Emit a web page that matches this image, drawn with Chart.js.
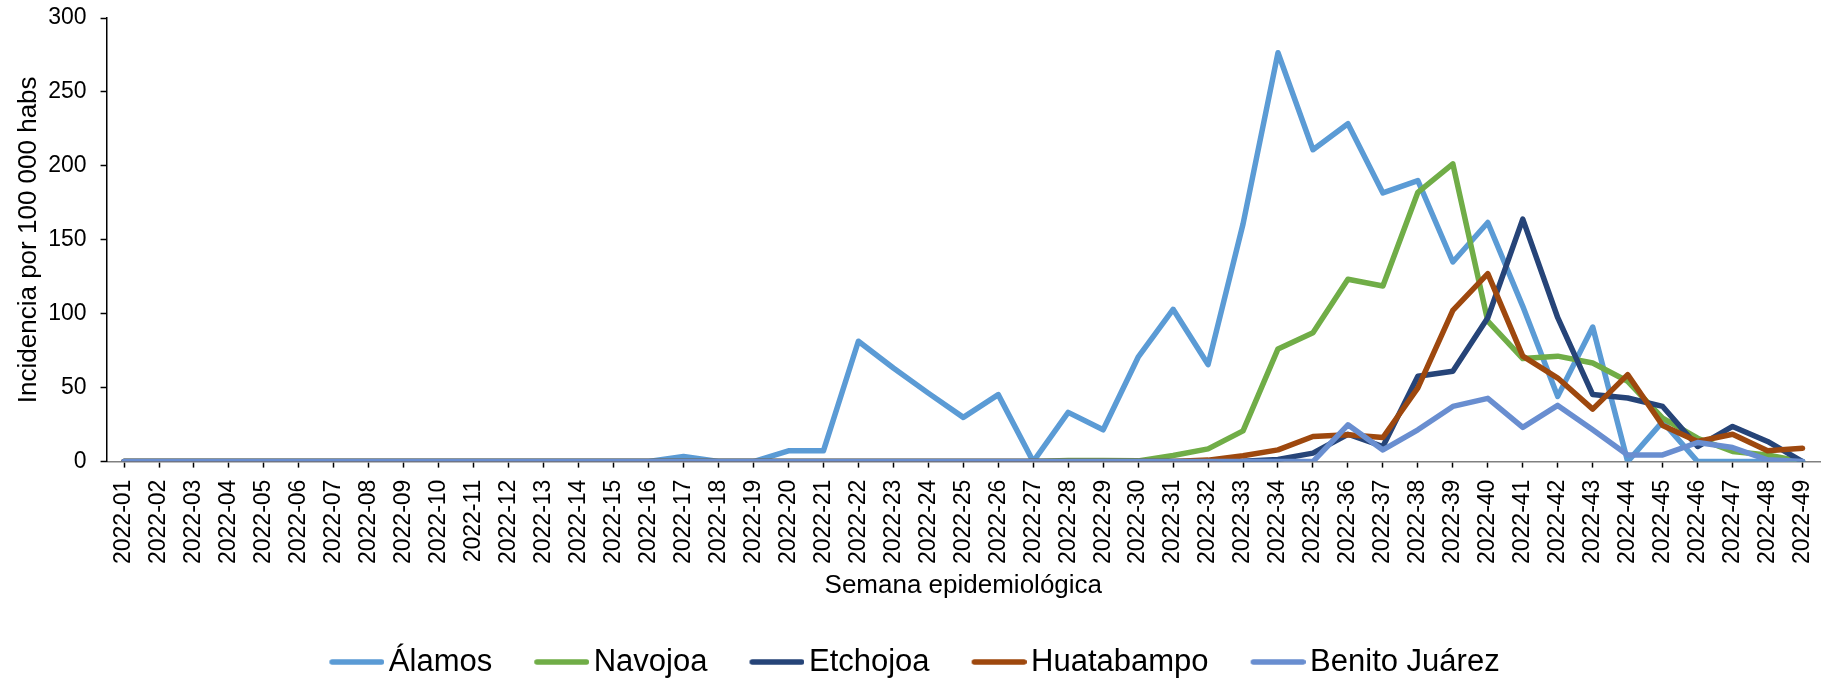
<!DOCTYPE html>
<html>
<head>
<meta charset="utf-8">
<title>Incidencia por semana epidemiológica</title>
<script src="https://cdn.jsdelivr.net/npm/chart.js@4/dist/chart.umd.min.js"></script>
<style>
    html, body { margin: 0; padding: 0; background: #fff; }
    #wrap { width: 1829px; height: 678px; position: relative; }
</style>
</head>
<body>
<div id="wrap"><canvas id="incChart"></canvas></div>
<script>
// Semanas 2022-01 .. 2022-49
const weeks = [
    '2022-01', '2022-02', '2022-03', '2022-04', '2022-05', '2022-06', '2022-07',
    '2022-08', '2022-09', '2022-10', '2022-11', '2022-12', '2022-13', '2022-14',
    '2022-15', '2022-16', '2022-17', '2022-18', '2022-19', '2022-20', '2022-21',
    '2022-22', '2022-23', '2022-24', '2022-25', '2022-26', '2022-27', '2022-28',
    '2022-29', '2022-30', '2022-31', '2022-32', '2022-33', '2022-34', '2022-35',
    '2022-36', '2022-37', '2022-38', '2022-39', '2022-40', '2022-41', '2022-42',
    '2022-43', '2022-44', '2022-45', '2022-46', '2022-47', '2022-48', '2022-49'
];

// incidence per 100 000 inhabitants
const alamos = [
    0, 0, 0, 0, 0, 0, 0, 0, 0, 0, 0, 0, 0, 0, 0, 0, 3.4, 0, 0, 7.3, 7.3,
    81.4, 63.3, 46.3, 29.9, 45.3, 0, 33.3, 21.5, 70.6, 103, 65.6, 160.7, 276.5, 210.9,
    228.5, 181.7, 190, 135, 161.7, 105, 44.1, 91, 0, 27, 0, 0, 0, 0
];
const navojoa = [
    0, 0, 0, 0, 0, 0, 0, 0, 0, 0, 0, 0, 0, 0, 0, 0, 0, 0, 0, 0, 0,
    0, 0, 0, 0, 0, 0, 0.8, 0.8, 0.5, 4.1, 8.6, 20.8, 76.2, 87.1,
    123.3, 118.8, 182.1, 201.4, 95, 69.7, 71.3, 66.7, 54.3, 29.4, 15.8, 6.8, 4.5, 0
];
const etchojoa = [
    0, 0, 0, 0, 0, 0, 0, 0, 0, 0, 0, 0, 0, 0, 0, 0, 0, 0, 0, 0, 0,
    0, 0, 0, 0, 0, 0, 0, 0, 0, 0, 0, 0.3, 1.5, 5.7,
    18.5, 10.2, 57.7, 61.1, 97.3, 164, 97.3, 45.3, 43, 37.3, 10.2, 23.8, 13.6, 0
];
const huatabampo = [
    0, 0, 0, 0, 0, 0, 0, 0, 0, 0, 0, 0, 0, 0, 0, 0, 0, 0, 0, 0, 0,
    0, 0, 0, 0, 0, 0, 0, 0, 0, 0, 1, 4, 7.9, 17,
    18.1, 16.3, 49.8, 102.3, 127.1, 71.3, 56.5, 35.5, 58.8, 24.4, 13.6, 18.5, 7.3, 9
];
const benitoJuarez = [
    0, 0, 0, 0, 0, 0, 0, 0, 0, 0, 0, 0, 0, 0, 0, 0, 0, 0, 0, 0, 0,
    0, 0, 0, 0, 0, 0, 0, 0, 0, 0, 0, 0, 0, 0,
    24.9, 7.9, 21.5, 37.3, 42.8, 23.1, 38, 21.5, 4.5, 4.5, 12.9, 9.5, 1.2, 0
];

const yTicks = [0, 50, 100, 150, 200, 250, 300];

const FONT = "'Liberation Sans', Arial, sans-serif";
const LINE_W = 5.5;
const LEGEND_FONT = 31;
const LEGEND_BOX = 44;   // box width chart.js reserves before the text
const LEGEND_LINE = 55;  // visible legend line length

// legend swatch: a short round-capped line, drawn from the left edge of the box
function legendLine(color) {
    const c = document.createElement('canvas');
    const w = 2 * (LEGEND_LINE - LEGEND_BOX / 2);
    c.width = w;
    c.height = 10;
    const ctx = c.getContext('2d');
    ctx.strokeStyle = color;
    ctx.lineWidth = LINE_W;
    ctx.lineCap = 'round';
    ctx.beginPath();
    ctx.moveTo(w - LEGEND_LINE + LINE_W / 2, 5);
    ctx.lineTo(w - LINE_W / 2, 5);
    ctx.stroke();
    return c;
}

function series(label, data, color, order) {
    return {
        label: label,
        data: data,
        borderColor: color,
        backgroundColor: color,
        borderWidth: LINE_W,
        borderCapStyle: 'round',
        borderJoinStyle: 'round',
        pointRadius: 0,
        pointHoverRadius: 0,
        pointStyle: legendLine(color),
        tension: 0,
        order: order   // first series drawn first, like the original
    };
}

const ctx = document.getElementById('incChart').getContext('2d');
const chart = new Chart(ctx, {
    type: 'line',
    data: {
        labels: weeks,
        datasets: [
            series('Álamos', alamos, '#5B9BD5', 5),
            series('Navojoa', navojoa, '#70AD47', 4),
            series('Etchojoa', etchojoa, '#264478', 3),
            series('Huatabampo', huatabampo, '#9E480E', 2),
            series('Benito Juárez', benitoJuarez, '#698ED0', 1)
        ]
    },
    options: {
        responsive: true,
        maintainAspectRatio: false,
        animation: false,
        layout: {
            padding: { top: 18, right: 9, bottom: -9.5, left: 9 }
        },
        plugins: {
            tooltip: { enabled: false },
            legend: {
                display: true,
                position: 'bottom',
                labels: {
                    color: '#000',
                    font: { family: FONT, size: LEGEND_FONT },
                    usePointStyle: true,
                    pointStyleWidth: LEGEND_BOX,
                    padding: 42,
                    sort: (a, b) => a.datasetIndex - b.datasetIndex
                }
            }
        },
        scales: {
            x: {
                offset: true,
                afterFit: (axis) => {
                    axis.paddingLeft = 0;
                    axis.paddingRight = 0;
                },
                grid: {
                    offset: false,
                    drawOnChartArea: false,
                    tickLength: 6,
                    tickColor: '#000',
                    tickWidth: 1.5
                },
                border: { color: '#808080', width: 1.5 },
                ticks: {
                    color: '#000',
                    font: { family: FONT, size: 23 },
                    minRotation: 90,
                    maxRotation: 90,
                    autoSkip: false,
                    padding: 12
                },
                title: {
                    display: true,
                    text: 'Semana epidemiológica',
                    color: '#000',
                    font: { family: FONT, size: 26, lineHeight: 1 },
                    padding: { top: -3, bottom: 5.5 }
                }
            },
            y: {
                min: 0,
                max: 300,
                afterBuildTicks: (axis) => {
                    axis.ticks = yTicks.map(v => ({ value: v }));
                },
                afterFit: (axis) => {
                    axis.paddingTop = 0;
                },
                grid: {
                    drawOnChartArea: false,
                    tickLength: 6,
                    tickColor: '#000',
                    tickWidth: 1.5
                },
                border: { color: '#000', width: 1.5 },
                ticks: {
                    color: '#000',
                    font: { family: FONT, size: 23 },
                    padding: 14
                },
                title: {
                    display: true,
                    text: 'Incidencia por 100 000 habs',
                    color: '#000',
                    font: { family: FONT, size: 26 },
                    padding: { top: 4, bottom: -10 }
                }
            }
        }
    }
});
</script>
</body>
</html>
